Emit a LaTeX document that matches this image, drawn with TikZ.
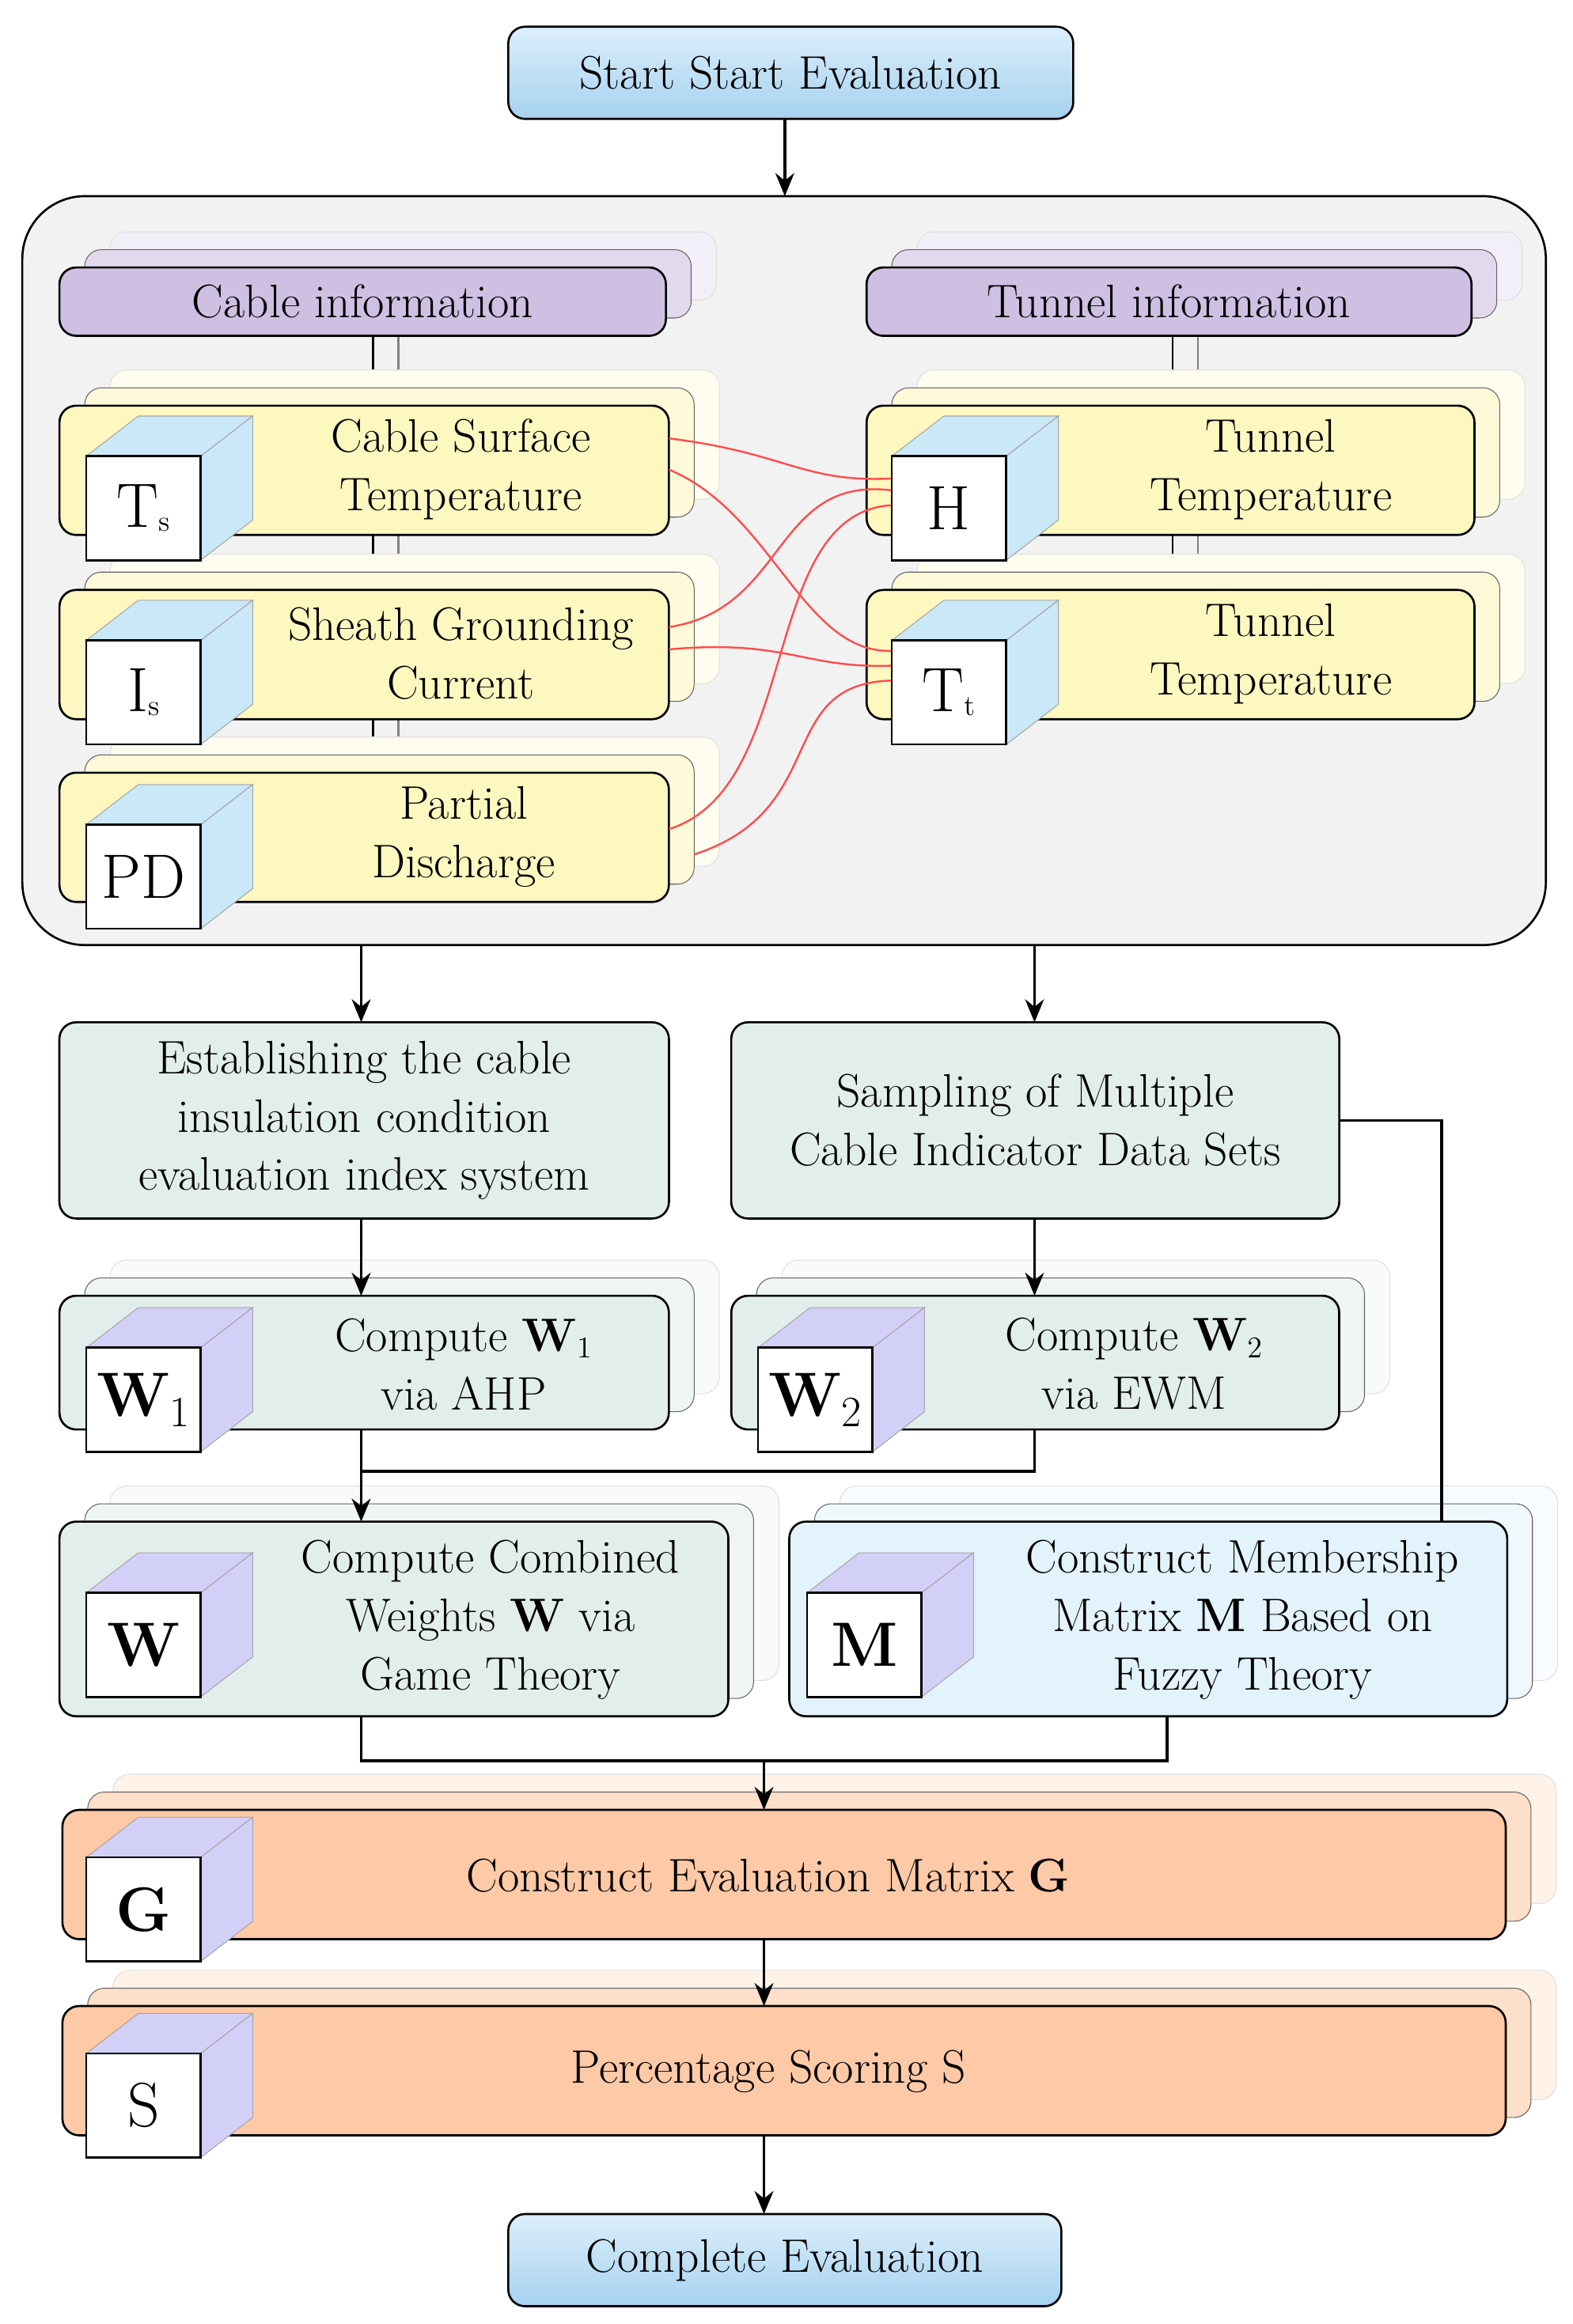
\documentclass[tikz,border=0pt]{standalone}
\usetikzlibrary{arrows.meta}
\pgfdeclarelayer{bg}\pgfsetlayers{bg,main}
\definecolor{cpur}{HTML}{CFC0E3}
\definecolor{cyel}{HTML}{FDF7C0}
\definecolor{cgrn}{HTML}{E2EEEC}
\definecolor{cltb}{HTML}{E3F3FC}
\definecolor{corg}{HTML}{FDC9A6}
\definecolor{ccubeb}{HTML}{CBE8F8}
\definecolor{ccubep}{HTML}{D3D0F8}
\definecolor{cbt}{HTML}{DCEEFB}
\definecolor{cbb}{HTML}{A6D2F0}
\newcommand\lbox[6]{%
 \draw[rounded corners=8pt,draw=gray!25,fill=#6!25] (#2+34,#3-24) rectangle (#4+34,#5-24);
 \draw[rounded corners=8pt,draw=gray!80!black,fill=#6!60] (#2+17,#3-12) rectangle (#4+17,#5-12);
 \node[mb,fill=#6,minimum width={(#4-#2)*0.025cm},minimum height={(#5-#3)*0.025cm}] (#1) at ({(#2+#4)/2},{(#3+#5)/2}) {};}
\newcommand\cube[5]{%
 \draw[draw=gray!70,fill=#5] (#2,#3) -- (#2+35,#3-27) -- (#2+112,#3-27) -- (#2+77,#3) -- cycle;
 \draw[draw=gray!70,fill=#5] (#2+77,#3) -- (#2+112,#3-27) -- (#2+112,#3+43) -- (#2+77,#3+70) -- cycle;
 \node[draw=black,line width=1pt,fill=white,minimum width=1.925cm,minimum height=1.75cm,inner sep=0,font=\fontsize{30}{32}\selectfont] (#1) at (#2+38.5,#3+35) {#4};}
\begin{document}
\begin{tikzpicture}[x=0.025cm,y=-0.025cm,font=\fontsize{22.5}{28}\selectfont,
 mb/.style={draw=black,line width=1pt,rounded corners=8pt,inner sep=0,outer sep=0},
 arr/.style={line width=1.4pt,-{Stealth[length=11pt,width=9pt]}},
 ln/.style={line width=1.4pt},
 rc/.style={draw=red!70,line width=0.9pt},
 tx/.style={align=center}]
\useasboundingbox (0,0) rectangle (1058,1564);
\node[mb,top color=cbt,bottom color=cbb,minimum width=9.5cm,minimum height=1.55cm] (start) at (532,49) {Start Start Evaluation};
\begin{pgfonlayer}{bg}
\draw[line width=1pt,fill=gray!10,rounded corners=30pt] (15,132) rectangle (1040,636);
\coordinate (cont) at (528,132);
\end{pgfonlayer}
\draw[arr] (start.south-|cont) -- (cont);
% info headers
\lbox{cinfo}{40}{180}{448}{226}{cpur}
\node at (cinfo) {Cable information};
\lbox{tinfo}{583}{180}{990}{226}{cpur}
\node at (tinfo) {Tunnel information};
% yellow boxes
\lbox{ts}{40}{273}{450}{360}{cyel}
\lbox{is}{40}{397}{450}{484}{cyel}
\lbox{pd}{40}{520}{450}{607}{cyel}
\lbox{h}{583}{273}{992}{360}{cyel}
\lbox{tt}{583}{397}{992}{484}{cyel}
\begin{pgfonlayer}{bg}
\draw[line width=0.8pt,gray] (268,214) -- (268,595);
\draw[line width=1pt] (251,226) -- (251,520);
\draw[line width=0.8pt,gray] (806,214) -- (806,472);
\draw[line width=1pt] (789,226) -- (789,397);
\end{pgfonlayer}
\node[tx] (tts) at (310,316) {Cable Surface\\Temperature};
\node[tx] (tis) at (310,440) {Sheath Grounding\\Current};
\node[tx] (tpd) at (312,563) {Partial\\Discharge};
\node[tx] (th) at (855,316) {Tunnel\\Temperature};
\node[tx] (ttt) at (855,440) {Tunnel\\Temperature};
% red curves
\draw[rc] (ts.east|-0,295) .. controls (530,305) and (540,325) .. (600,322);
\draw[rc] (ts.east|-0,316) .. controls (520,345) and (540,440) .. (600,438);
\draw[rc] (is.east|-0,422) .. controls (530,410) and (520,320) .. (600,330);
\draw[rc] (is.east|-0,437) .. controls (530,430) and (540,450) .. (600,448);
\draw[rc] (pd.east|-0,558) .. controls (540,530) and (510,345) .. (600,340);
\draw[rc] (467,575) .. controls (560,545) and (520,460) .. (600,458);
\cube{cts}{58}{307}{T\raisebox{-2pt}{\fontsize{14}{14}\selectfont s}}{ccubeb}
\cube{cis}{58}{431}{I\raisebox{-2pt}{\fontsize{14}{14}\selectfont s}}{ccubeb}
\cube{cpd}{58}{555}{PD}{ccubeb}
\cube{ch}{600}{307}{H}{ccubeb}
\cube{ctt}{600}{431}{T\raisebox{-2pt}{\fontsize{14}{14}\selectfont t}}{ccubeb}
% evaluation boxes
\coordinate (cl) at (243,636); \coordinate (cr) at (696,636);
\node[mb,fill=cgrn,minimum width=10.25cm,minimum height=3.3cm,tx] (est) at (245,754) {Establishing the cable\\insulation condition\\evaluation index system};
\node[mb,fill=cgrn,minimum width=10.225cm,minimum height=3.3cm,tx] (samp) at (696.5,754) {Sampling of Multiple\\Cable Indicator Data Sets};
\draw[arr] (cl) -- (cl|-est.north);
\draw[arr] (cr) -- (cr|-samp.north);
\lbox{w1}{40}{872}{450}{962}{cgrn}
\lbox{w2}{492}{872}{901}{962}{cgrn}
\draw[arr] (est.south-|cl) -- (cl|-w1.north);
\draw[arr] (samp.south-|cr) -- (cr|-w2.north);
\node[tx] (tw1) at (312,918) {Compute \textbf{W}$_1$\\via AHP};
\node[tx] (tw2) at (763,918) {Compute \textbf{W}$_2$\\via EWM};
\cube{cw1}{58}{907}{\textbf{W}$_1$}{ccubep}
\cube{cw2}{510}{907}{\textbf{W}$_2$}{ccubep}
\lbox{w}{40}{1024}{490}{1155}{cgrn}
\lbox{m}{531}{1024}{1014}{1155}{cltb}
\node[tx] (tw) at (330,1090) {Compute Combined\\Weights \textbf{W} via\\Game Theory};
\node[tx] (tm) at (836,1090) {Construct Membership\\Matrix \textbf{M} Based on\\Fuzzy Theory};
\cube{cw}{58}{1072}{\textbf{W}}{ccubep}
\cube{cm}{543}{1072}{\textbf{M}}{ccubep}
\draw[ln] (w2.south-|cr) -- (696,990) -- (243,990);
\draw[arr] (w1.south-|cl) -- (cl|-w.north);
\draw[ln] (samp.east) -- (970,754) -- (970,1024);
\lbox{g}{42}{1218}{1013}{1305}{corg}
\lbox{s}{42}{1350}{1013}{1437}{corg}
\node (tg) at (517,1262) {Construct Evaluation Matrix \textbf{G}};
\node (tsc) at (517,1394) {Percentage Scoring S};
\cube{cg}{58}{1250}{\textbf{G}}{ccubep}
\cube{cs}{58}{1382}{S}{ccubep}
\draw[ln] (w.south-|cl) -- (243,1185) -- (785,1185) -- (m.south-|785,0);
\draw[arr] (514,1185) -- (g.north-|514,0);
\draw[arr] (g.south-|514,0) -- (s.north-|514,0);
\node[mb,top color=cbt,bottom color=cbb,minimum width=9.3cm,minimum height=1.55cm] (done) at (528,1521) {Complete Evaluation};
\draw[arr] (s.south-|514,0) -- (done.north-|514,0);
\end{tikzpicture}
\end{document}
